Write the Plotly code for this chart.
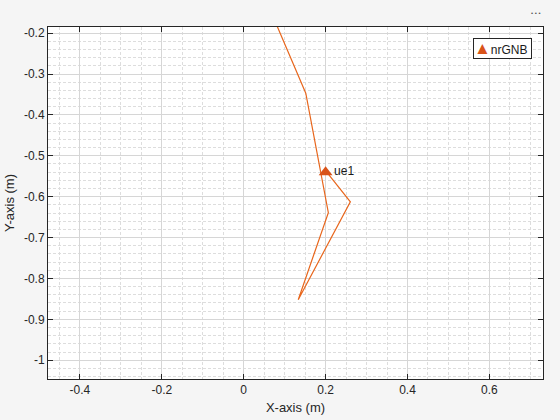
import plotly.graph_objects as go

# trajectory (m)
path_x = [0.0676, 0.1516, 0.2067, 0.1332, 0.2605, 0.2018]
path_y = [-0.150, -0.347, -0.639, -0.852, -0.6125, -0.539]

# node
node_name = ["ue1"]
node_x = [0.2]
node_y = [-0.54]
legend_name = "nrGNB"

x_ticks = [-0.4, -0.2, 0, 0.2, 0.4, 0.6]
x_tick_labels = ["-0.4", "-0.2", "0", "0.2", "0.4", "0.6"]
y_ticks = [-0.2, -0.3, -0.4, -0.5, -0.6, -0.7, -0.8, -0.9, -1]
y_tick_labels = ["-0.2", "-0.3", "-0.4", "-0.5", "-0.6", "-0.7", "-0.8", "-0.9", "-1"]

orange = "#D95319"
axcol = "#262626"

fig = go.Figure()
fig.add_trace(go.Scatter(x=path_x, y=path_y, mode="lines",
                         line=dict(color="#E8661C", width=1.2),
                         showlegend=False, hoverinfo="skip"))
fig.add_trace(go.Scatter(x=node_x, y=node_y, mode="markers+text",
                         name=legend_name, text=node_name, textposition="middle right",
                         textfont=dict(size=12, color="#1a1a1a"),
                         showlegend=False,
                         marker=dict(symbol="triangle-up", size=12, color=orange,
                                     line=dict(width=0))))

font = "Liberation Sans, Arial, sans-serif"
common = dict(showline=True, linecolor=axcol, linewidth=1, mirror="ticks",
              ticks="inside", ticklen=5, tickcolor=axcol, zeroline=False,
              showgrid=True, gridcolor="#D6D6D6", gridwidth=1,
              tickfont=dict(size=12, color=axcol, family=font))

minor_style = dict(showgrid=True, griddash="3px,2px", gridcolor="#DDDDDD", ticks="")
fig.update_xaxes(range=[-0.478, 0.731], tickvals=x_ticks, ticktext=x_tick_labels,
                 title=dict(text="X-axis (m)", font=dict(size=13, color=axcol, family=font), standoff=6),
                 minor=dict(dtick=0.05, **minor_style),
                 **common)
fig.update_yaxes(range=[-1.046, -0.185], tickvals=y_ticks, ticktext=y_tick_labels,
                 title=dict(text="Y-axis (m)", font=dict(size=13, color=axcol, family=font), standoff=6),
                 minor=dict(dtick=0.02, **minor_style),
                 **common)

fig.update_layout(
    width=560, height=420,
    margin=dict(l=48, r=17, t=27, b=41, autoexpand=False),
    paper_bgcolor="#F5F5F5", plot_bgcolor="white",
    font=dict(family=font, color=axcol),
    showlegend=False,
)
# compact legend box (MATLAB style)
fig.add_annotation(x=(532 - 48) / 495, y=1 - (38 - 27) / 352,
                   xref="x domain", yref="y domain",
                   text=f'<span style="color:{orange};font-size:17px">▲</span>{legend_name} ',
                   showarrow=False, xanchor="right", yanchor="top",
                   bgcolor="white", bordercolor=axcol, borderwidth=1, borderpad=0,
                   font=dict(size=12, color="#1a1a1a", family=font))
fig.add_annotation(x=1.0, y=1.04, xref="paper", yref="paper", text="• • •",
                   showarrow=False, xanchor="right", yanchor="middle",
                   font=dict(size=6, color="#555555"))

fig.write_html("out.html", config={"displayModeBar": False},
               post_script="document.body.style.margin='0';")
